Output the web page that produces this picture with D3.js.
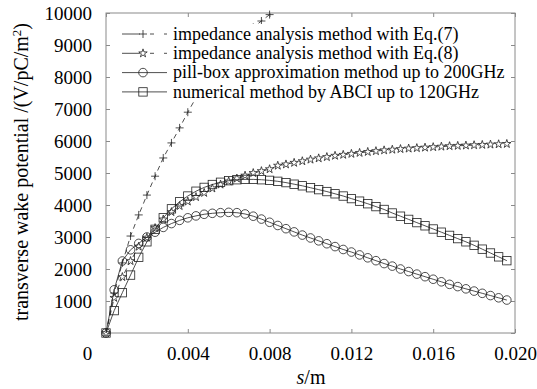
<!DOCTYPE html>
<html>
<head>
<meta charset="utf-8">
<script src="https://cdn.jsdelivr.net/npm/d3@7"></script>
<style>
  body { margin: 0; background: #fff; }
</style>
</head>
<body>
<svg id="chart" width="537" height="389"></svg>
<script>
// s values (m), step 0.0004
const sVals = d3.range(50).map((i) => +(i * 0.0004).toFixed(4));

// impedance analysis with Eq.(7) - only visible up to ~0.008
const eq7 = [0, 1250, 2190, 3030, 3690, 4310, 4900, 5470, 5940, 6410, 6900,
  7350, 7750, 8100, 8450, 8750, 9050, 9300, 9550, 9750, 9950];

const eq8 = [0, 1100, 1750, 2250, 2700, 2980, 3280, 3550, 3780, 3970,
  4110, 4250, 4380, 4520, 4640, 4740, 4830, 4920, 5000, 5060,
  5120, 5230, 5270, 5320, 5370, 5420, 5460, 5500, 5540, 5570,
  5600, 5630, 5660, 5685, 5710, 5730, 5750, 5765, 5780, 5795,
  5810, 5825, 5840, 5850, 5860, 5870, 5880, 5890, 5900, 5910];

const pillbox = [0, 1350, 2250, 2600, 2800, 3000, 3150, 3300, 3420, 3520,
  3600, 3660, 3710, 3740, 3760, 3770, 3760, 3720, 3650, 3560,
  3460, 3360, 3260, 3160, 3060, 2970, 2880, 2790, 2700, 2610,
  2530, 2440, 2350, 2260, 2170, 2090, 2000, 1920, 1840, 1760,
  1680, 1600, 1520, 1450, 1380, 1310, 1240, 1170, 1100, 1030];

const abci = [0, 700, 1260, 1810, 2365, 2850, 3240, 3600, 3880, 4100,
  4280, 4430, 4550, 4640, 4710, 4760, 4790, 4800, 4800, 4790,
  4770, 4740, 4700, 4650, 4600, 4540, 4480, 4420, 4350, 4280,
  4200, 4120, 4040, 3950, 3860, 3750, 3650, 3550, 3450, 3350,
  3250, 3150, 3050, 2950, 2850, 2740, 2620, 2500, 2380, 2260];

const seriesNames = [
  'impedance analysis method with Eq.(7)',
  'impedance analysis method with Eq.(8)',
  'pill-box approximation method up to 200GHz',
  'numerical method by ABCI up to 120GHz',
];
const xTicks = [0, 0.004, 0.008, 0.012, 0.016, 0.020];
const xTickLabels = ['0', '0.004', '0.008', '0.012', '0.016', '0.020'];
const yTicks = d3.range(0, 10001, 1000);

const FONT = "'Liberation Serif', 'Times New Roman', Times, serif";

const svg = d3.select('#chart').attr('font-family', FONT);
const mLeft = 106, mRight = 515, mTop = 13, mBottom = 333;

const x = d3.scaleLinear().domain([0, 0.02]).range([mLeft, mRight]);
const y = d3.scaleLinear().domain([0, 10000]).range([mBottom, mTop]);

const frameColor = '#8a8a8a';
const tickLen = 4;

// frame
svg.append('rect')
  .attr('x', mLeft).attr('y', mTop)
  .attr('width', mRight - mLeft).attr('height', mBottom - mTop)
  .attr('fill', 'none').attr('stroke', frameColor).attr('stroke-width', 1);

// axes
const xAxis = svg.append('g')
  .attr('transform', `translate(0,${mBottom})`)
  .call(d3.axisBottom(x).tickValues(xTicks).tickSize(-tickLen).tickPadding(14)
    .tickFormat((d, i) => xTickLabels[i]));
xAxis.attr('font-family', FONT).attr('font-size', 19);
xAxis.select('.domain').remove();
xAxis.selectAll('.tick line').attr('stroke', frameColor);
xAxis.selectAll('.tick text').attr('fill', '#000')
  .attr('dx', (d, i) => (i === 0 ? -19 : 0));

svg.append('g')
  .attr('transform', `translate(0,${mTop})`)
  .call(d3.axisTop(x).tickValues(xTicks).tickSize(-tickLen).tickFormat(''))
  .call((g) => g.select('.domain').remove())
  .call((g) => g.selectAll('.tick line').attr('stroke', frameColor));

const yAxis = svg.append('g')
  .attr('transform', `translate(${mLeft},0)`)
  .call(d3.axisLeft(y).tickValues(yTicks).tickSize(-tickLen).tickPadding(14)
    .tickFormat((d) => (d === 0 ? '' : d)));
yAxis.attr('font-family', FONT).attr('font-size', 19);
yAxis.select('.domain').remove();
yAxis.selectAll('.tick line').attr('stroke', frameColor);
yAxis.selectAll('.tick text').attr('fill', '#000');

svg.append('g')
  .attr('transform', `translate(${mRight},0)`)
  .call(d3.axisRight(y).tickValues(yTicks).tickSize(-tickLen).tickFormat(''))
  .call((g) => g.select('.domain').remove())
  .call((g) => g.selectAll('.tick line').attr('stroke', frameColor));

// axis titles
svg.append('text')
  .attr('transform', 'translate(28,172) rotate(-90)')
  .attr('text-anchor', 'middle')
  .attr('font-family', FONT)
  .attr('font-size', 20)
  .html('transverse wake potential /(V/pC/m<tspan baseline-shift="super" font-size="13">2</tspan>)');

svg.append('text')
  .attr('x', 311).attr('y', 384)
  .attr('text-anchor', 'middle')
  .attr('font-family', FONT)
  .attr('font-size', 20)
  .html('<tspan font-style="italic">s</tspan>/m');

// markers
const plusPath = 'M-4,0H4M0,-4V4';
const markers = [
  (g) => g.append('path').attr('d', plusPath).attr('fill', 'none'),
  (g) => g.append('path').attr('d', d3.symbol(d3.symbolStar, 22)()).attr('fill', '#fff'),
  (g) => g.append('circle').attr('r', 4.3).attr('fill', 'none'),
  (g) => g.append('rect').attr('x', -4.2).attr('y', -4.2).attr('width', 8.4).attr('height', 8.4).attr('fill', 'none'),
];
const dashes = ['5,4', '5,4', null, null];
const allSeries = [eq7, eq8, pillbox, abci];

const line = d3.line().x((d) => x(d[0])).y((d) => y(d[1]));
const strokeCol = '#222';

allSeries.forEach((vals, k) => {
  const pts = vals.map((v, i) => [sVals[i], v]);
  svg.append('path')
    .datum(pts)
    .attr('fill', 'none')
    .attr('stroke', strokeCol)
    .attr('stroke-width', 0.8)
    .attr('stroke-dasharray', dashes[k])
    .attr('d', line);
  const g = svg.append('g');
  pts.forEach((p) => {
    const m = g.append('g').attr('transform', `translate(${x(p[0])},${y(p[1])})`)
      .attr('stroke', strokeCol).attr('stroke-width', 0.8);
    markers[k](m);
  });
});

// legend with opaque background
const legX = 122, legY0 = 34, legDy = 19.3;
svg.append('rect')
  .attr('x', 118).attr('y', 24)
  .attr('width', 384).attr('height', 78)
  .attr('fill', '#fff');

const legDash = ['18,10,4,10,4', '18,10,4,10,4', null, null];
seriesNames.forEach((name, k) => {
  const yy = legY0 + k * legDy;
  svg.append('line')
    .attr('x1', legX).attr('x2', legX + 45)
    .attr('y1', yy).attr('y2', yy)
    .attr('stroke', strokeCol).attr('stroke-width', 0.8)
    .attr('stroke-dasharray', legDash[k]);
  const m = svg.append('g').attr('transform', `translate(${legX + 21},${yy})`)
    .attr('stroke', strokeCol).attr('stroke-width', 0.8);
  markers[k](m);
  svg.append('text')
    .attr('x', 173).attr('y', yy)
    .attr('dy', '0.32em')
    .attr('font-family', FONT)
    .attr('font-size', 18)
    .text(name);
});
</script>
</body>
</html>
